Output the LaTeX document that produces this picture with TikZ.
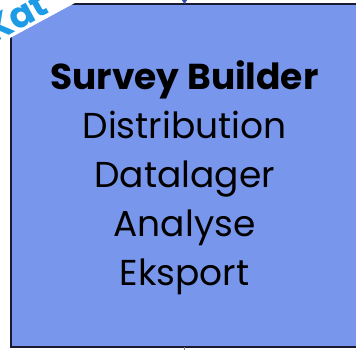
\documentclass[tikz,border=0pt]{standalone}
\usepackage{fontspec}
\newfontfamily\boxfont{Poppins}
\usetikzlibrary{arrows.meta}
\definecolor{boxfill}{HTML}{7896EB}
\definecolor{boxline}{HTML}{1A1A33}
\definecolor{katblue}{HTML}{1E9BE6}
\definecolor{arrblue}{HTML}{2F4FA8}
\tikzset{
  mainbox/.style={draw=boxline,line width=1.5pt,fill=boxfill},
  line/.style={font=\boxfont\fontsize{36}{40}\selectfont,anchor=base,inner sep=0pt},
  title/.style={line,font=\boxfont\bfseries\fontsize{36}{40}\selectfont},
}
\begin{document}
\begin{tikzpicture}[x=1pt,y=-1pt]
\useasboundingbox (0,0) rectangle (356,350);
\fill[white] (0,0) rectangle (356,350);
\draw[mainbox] (11,4) rectangle (358,347);
\coordinate (topin) at (184.5,-5);
\coordinate (topbox) at (184.5,4);
\draw[arrblue,line width=1pt,-{Triangle[length=4pt,width=5pt]}] (topin) -- (topbox);
\coordinate (botbox) at (184.5,347);
\coordinate (botout) at (184.5,355);
\draw[gray,line width=0.8pt] (botbox) -- (botout);
\node[title] (t0) at (184.5,90) {Survey Builder};
\node[line] (t1) at (184.5,139) {Distribution};
\node[line] (t2) at (184.5,187) {Datalager};
\node[line] (t3) at (184.5,236) {Analyse};
\node[line] (t4) at (184.5,285) {Eksport};
\fill[white] (-20,54.2) -- (98.9,-10) -- (-20,-10) -- cycle;
\node[font=\boxfont\bfseries\fontsize{36}{40}\selectfont,text=katblue,anchor=base west,inner sep=0pt,rotate=29] (kat) at (-6,44) {Kat};
\end{tikzpicture}
\end{document}
